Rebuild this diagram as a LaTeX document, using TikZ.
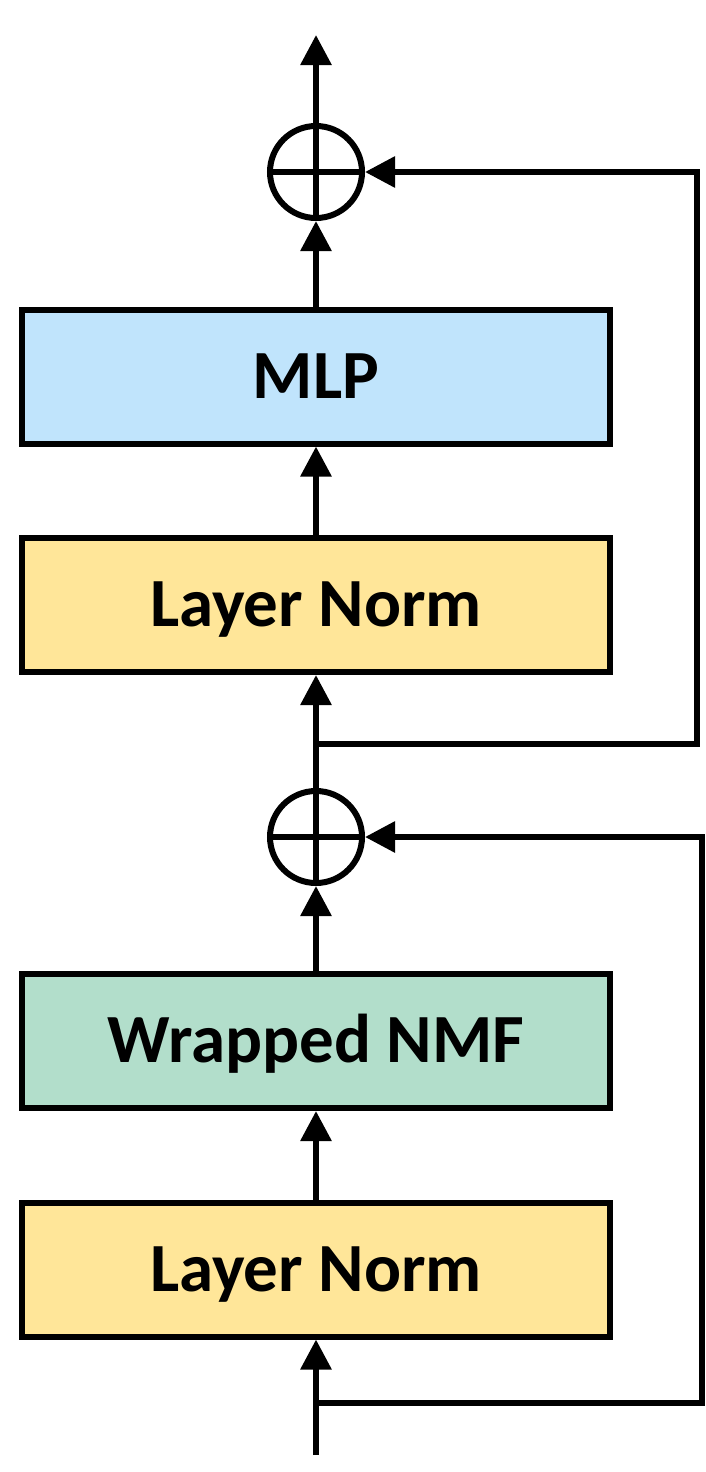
\documentclass[tikz,border=0pt]{standalone}
\usepackage{fontspec}
\setmainfont{Carlito}
\usetikzlibrary{arrows.meta,positioning}
\definecolor{mlpblue}{HTML}{C0E4FC}
\definecolor{normyellow}{HTML}{FFE699}
\definecolor{nmfgreen}{HTML}{B2DECB}

\begin{document}
\begin{tikzpicture}[x=0.5pt,y=-0.5pt,line width=3pt,
  >={Triangle[length=15pt,width=15pt]},
  block/.style={draw,minimum width=294pt,minimum height=67pt,inner sep=0pt,
    font=\fontsize{34.5}{40}\selectfont\bfseries,text height=21.8pt,text depth=0pt},
  addop/.style={draw,circle,minimum size=46pt,inner sep=0pt}]
  \useasboundingbox (0,0) rectangle (706,1472);
  % blocks, bottom to top
  \coordinate (in) at (316,1455);
  \coordinate (split1) at (316,1403);
  \node[block,fill=normyellow] (norm1) at (316,1269.5) {Layer Norm};
  \node[block,fill=nmfgreen] (nmf) at (316,1041) {Wrapped NMF};
  \node[addop] (add1) at (316,837) {};
  \coordinate (split2) at (316,744);
  \node[block,fill=normyellow] (norm2) at (316,605) {Layer Norm};
  \node[block,fill=mlpblue] (mlp) at (316,376.5) {MLP};
  \node[addop] (add2) at (316,172) {};
  \coordinate (out) at (316,35);
  % plus signs
  \foreach \op in {add1,add2}{
    \draw (\op.north) -- (\op.south) (\op.west) -- (\op.east);
  }
  % main path
  \draw[->] (in) -- (norm1);
  \draw[->] (norm1) -- (nmf);
  \draw[->] (nmf) -- (add1);
  \draw[->] (add1) -- (norm2);
  \draw[->] (norm2) -- (mlp);
  \draw[->] (mlp) -- (add2);
  \draw[->] (add2) -- (out);
  % residual loops
  \draw[->] (split1) -- ++(386,0) |- (add1);
  \draw[->] (split2) -- ++(381,0) |- (add2);
\end{tikzpicture}
\end{document}
